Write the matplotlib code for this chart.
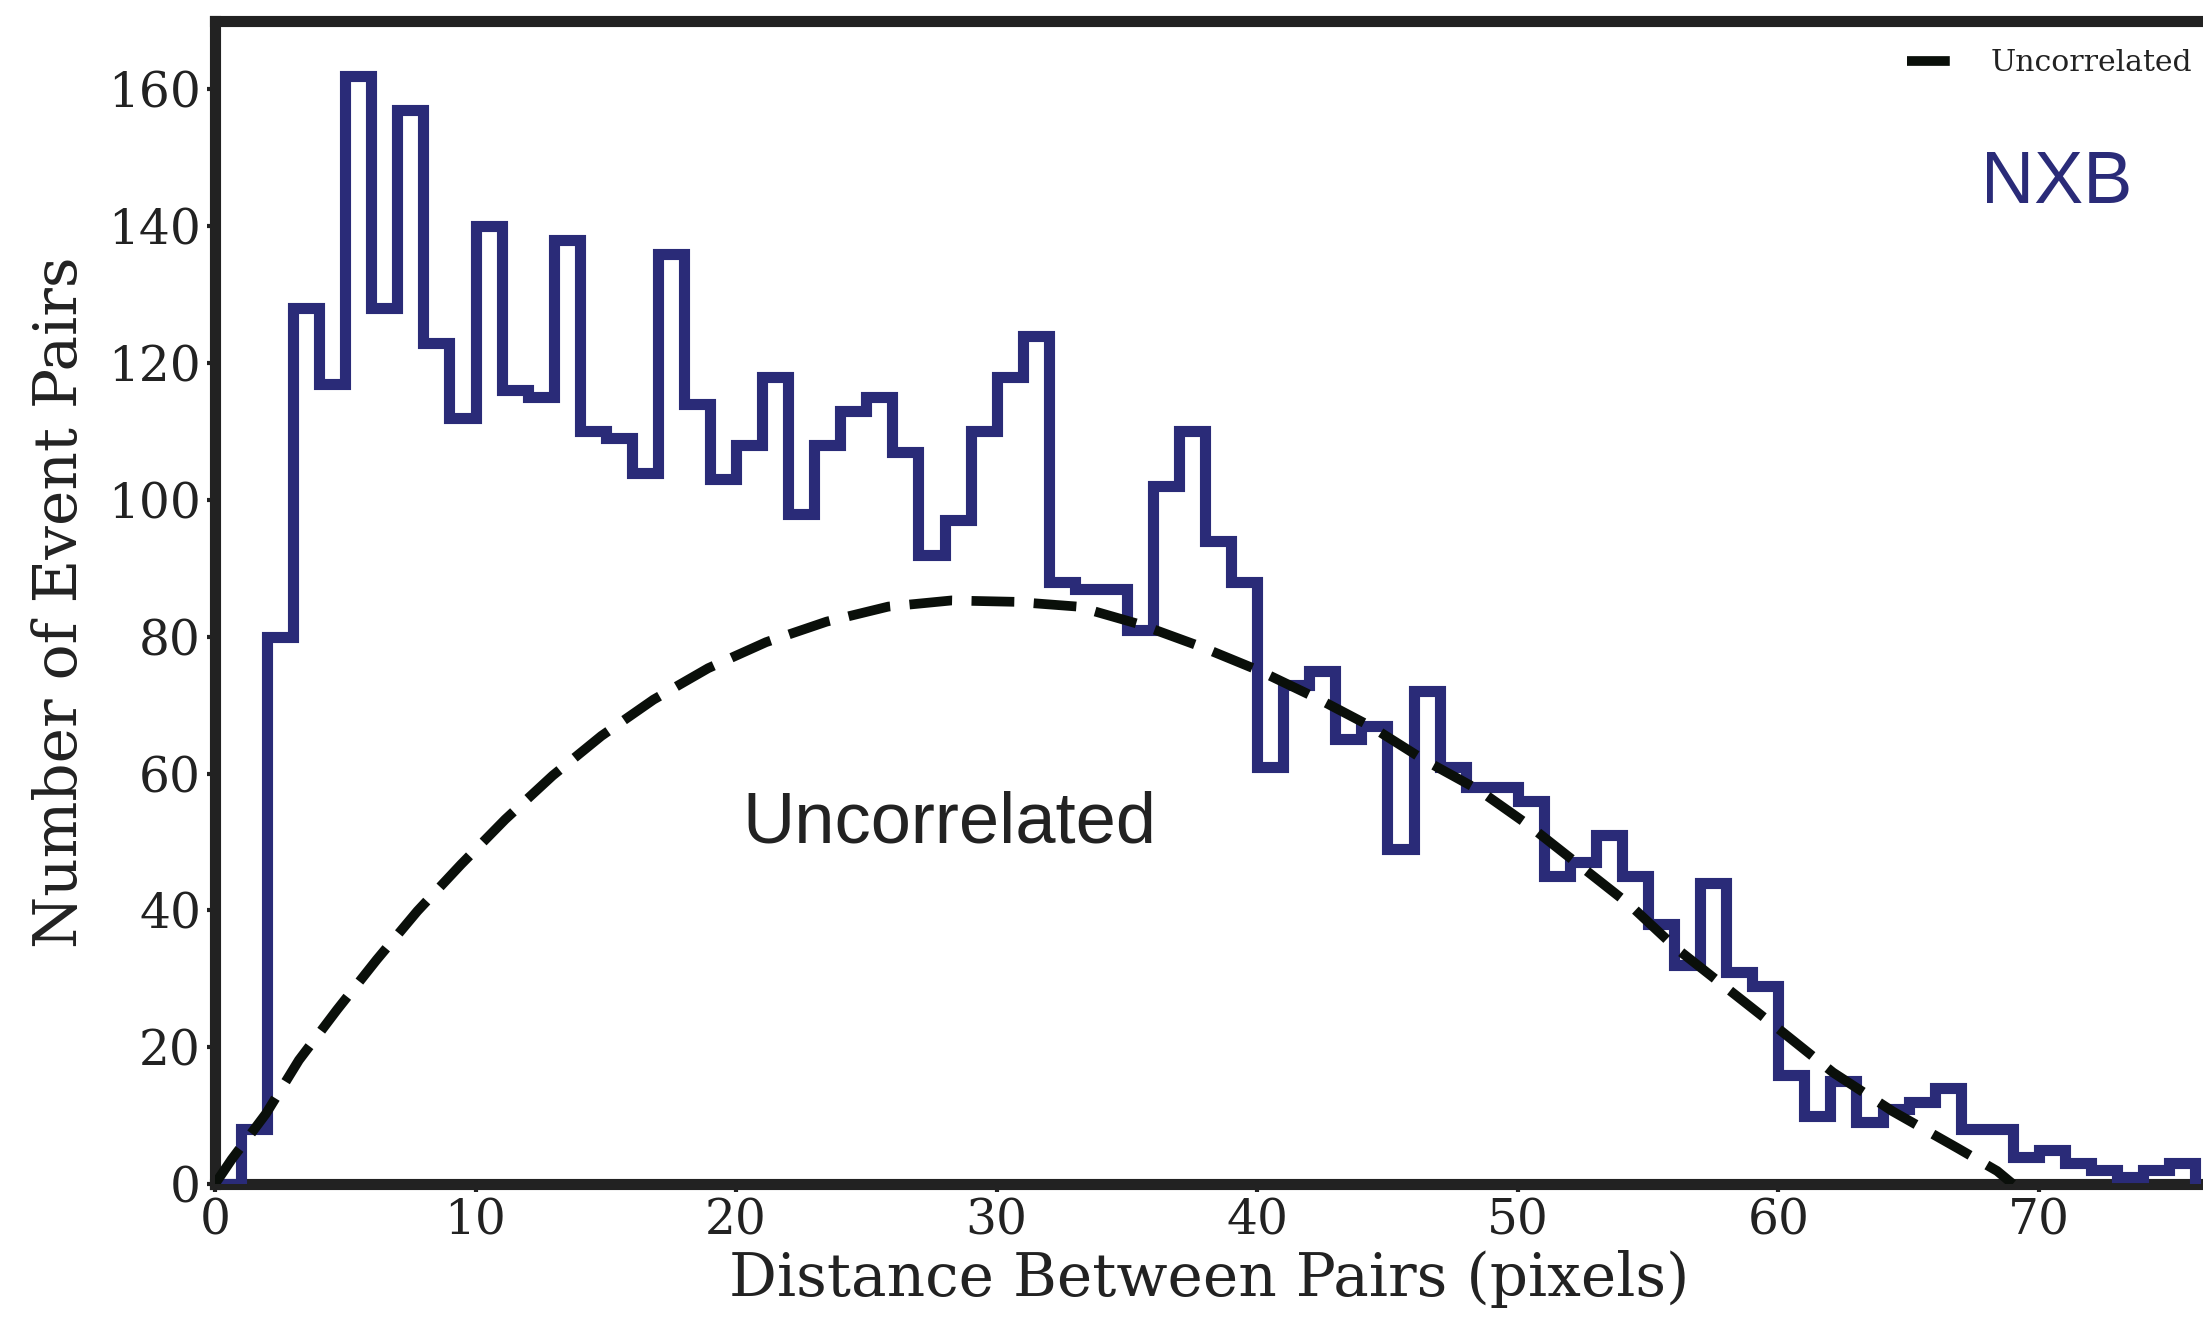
import numpy as np
import matplotlib
matplotlib.use("Agg")
import matplotlib.pyplot as plt

# pair counts per 1-pixel distance bin (bins start at 0)
bin_edges = list(range(0, 77))
pair_counts = [0, 8, 80, 128, 117, 162, 128, 157, 123, 112,
               140, 116, 115, 138, 110, 109, 104, 136, 114, 103,
               108, 118, 98, 108, 113, 115, 107, 92, 97, 110,
               118, 124, 88, 87, 87, 81, 102, 110, 94, 88,
               61, 73, 75, 65, 67, 49, 72, 61, 58, 58,
               56, 45, 47, 51, 45, 38, 32, 44, 31, 29,
               16, 10, 15, 9, 11, 12, 14, 8, 8, 4,
               5, 3, 2, 1, 2, 3]

# uncorrelated expectation
uncorr_x = [0, 0.64, 1.96, 3.22, 4.69, 6.21, 7.77, 9.44, 11.14, 12.96,
            14.83, 16.83, 18.93, 21.15, 23.47, 25.84, 28.27, 30.7, 33.12,
            35.5, 37.8, 40.1, 42.4, 44.4, 46.4, 48.5, 50.4, 52.5, 54.3,
            56.1, 58.0, 60.0, 62.1, 64.4, 66.9, 68.4, 69.0]
uncorr_y = [0, 3.6, 10.3, 18.1, 25.5, 32.8, 39.9, 46.7, 53.3, 59.7,
            65.5, 70.8, 75.4, 79.2, 82.2, 84.4, 85.3, 85.1, 84.4,
            81.8, 78.6, 75.0, 70.8, 66.8, 62.0, 57.6, 52.5, 46.2, 40.8,
            34.4, 28.7, 22.7, 16.3, 10.6, 5.2, 1.9, 0]

navy = "#2a2b78"
ink = "#222222"

plt.rcParams["font.family"] = "DejaVu Serif"

fig = plt.figure(figsize=(22.03, 13.2), dpi=100)
ax = fig.add_axes([215 / 2203, 1 - 1184 / 1320, 1 - 215 / 2203, (1184 - 21) / 1320])

ax.stairs(pair_counts, bin_edges, color=navy, linewidth=8, baseline=0, zorder=3)
ax.plot(uncorr_x, uncorr_y, color="#0a0f0a", linewidth=7, dashes=(4.4, 2.0),
        label="Uncorrelated", zorder=4)

ax.set_xlim(0, 76.3)
ax.set_ylim(0, 170)
ax.set_xticks(range(0, 80, 10))
ax.set_yticks(range(0, 180, 20))

for side in ["left", "bottom", "top"]:
    ax.spines[side].set_linewidth(8)
    ax.spines[side].set_color(ink)
ax.spines["right"].set_visible(False)
ax.tick_params(direction="out", length=6, width=3, color=ink, labelsize=35,
               labelcolor=ink, pad=4)

ax.set_xlabel("Distance Between Pairs (pixels)", fontsize=43, color=ink, labelpad=4)
ax.set_ylabel("Number of Event Pairs", fontsize=43, color=ink, labelpad=14)

ax.text(28.2, 52.6, "Uncorrelated", fontsize=52, family="Liberation Sans",
        color=ink, ha="center", va="center")
ax.text(70.7, 146.2, "NXB", fontsize=53, family="Liberation Sans",
        color=navy, ha="center", va="center")

leg = ax.legend(loc="upper right", bbox_to_anchor=(1.009, 1.0), frameon=False,
                fontsize=21.5, handlelength=1.45, borderaxespad=0.55,
                handletextpad=1.35)
for t in leg.get_texts():
    t.set_color(ink)

fig.savefig("out.png", dpi=100)
